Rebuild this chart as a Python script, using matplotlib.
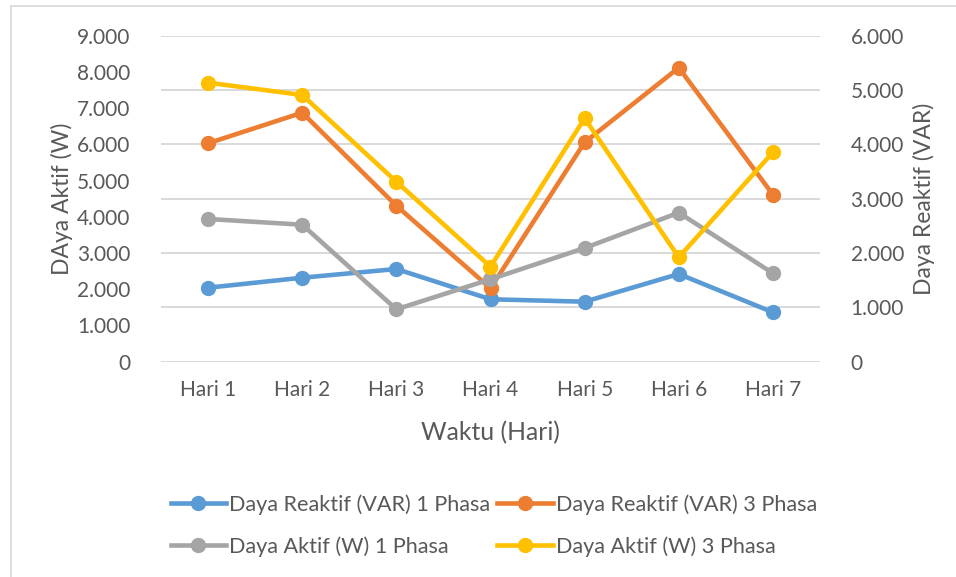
import matplotlib.pyplot as plt
from matplotlib.ticker import FuncFormatter, MultipleLocator
from matplotlib.lines import Line2D

plt.rcParams['font.family'] = ['Lato', 'DejaVu Sans']

hari = ['Hari 1', 'Hari 2', 'Hari 3', 'Hari 4', 'Hari 5', 'Hari 6', 'Hari 7']

# daya reaktif (VAR) -> sumbu kanan
reaktif_1ph = [1362, 1546, 1706, 1149, 1104, 1614, 909]
reaktif_3ph = [4020, 4583, 2871, 1351, 4038, 5411, 3074]

# daya aktif (W) -> sumbu kiri
aktif_1ph = [3940, 3782, 1447, 2275, 3139, 4114, 2441]
aktif_3ph = [7703, 7363, 4970, 2623, 6720, 2882, 5781]

c_blue = '#5B9BD5'
c_orange = '#ED7D31'
c_gray = '#A5A5A5'
c_yellow = '#FFC000'
txt = '#595959'

fig = plt.figure(figsize=(9.56, 5.77), dpi=100)
ax = fig.add_axes([161/956, 1-361.7/577, 659/956, 326/577])
ax2 = ax.twinx()

x = range(len(hari))

def titik(v, pos):
    return f"{int(round(v)):,}".replace(',', '.')

lw = 3.3
ms = 10

# ax = sumbu VAR (kanan) dengan gridline
ax.plot(x, reaktif_1ph, color=c_blue, lw=lw, marker='o', ms=ms)
ax.plot(x, reaktif_3ph, color=c_orange, lw=lw, marker='o', ms=ms)
ax.set_ylim(0, 6000)
ax.yaxis.set_major_locator(MultipleLocator(1000))
ax.yaxis.set_major_formatter(FuncFormatter(titik))
ax.yaxis.tick_right()
ax.yaxis.set_label_position('right')
ax.grid(axis='y', color='#D9D9D9', lw=1.4)
ax.set_axisbelow(True)

# ax2 = sumbu W (kiri)
ax2.plot(x, aktif_1ph, color=c_gray, lw=lw, marker='o', ms=ms)
ax2.plot(x, aktif_3ph, color=c_yellow, lw=lw, marker='o', ms=ms)
ax2.set_ylim(0, 9000)
ax2.yaxis.set_major_locator(MultipleLocator(1000))
ax2.yaxis.set_major_formatter(FuncFormatter(titik))
ax2.yaxis.tick_left()
ax2.yaxis.set_label_position('left')

ax.set_xlim(-0.5, len(hari) - 0.5)
ax.set_xticks(list(x))
ax.set_xticklabels(hari)

for a in (ax, ax2):
    for s in a.spines.values():
        s.set_visible(False)
    a.tick_params(length=0, labelsize=15, labelcolor=txt)
ax.tick_params(axis='x', pad=13)
ax.tick_params(axis='y', pad=22)
ax2.tick_params(axis='y', pad=22)

ax.set_xlabel('Waktu (Hari)', fontsize=17.8, color=txt, va='center')
ax.xaxis.set_label_coords(0.5, (361.7-433)/326)
ax2.set_ylabel('DAya Aktif (W)', fontsize=16.5, color=txt, va='center', ha='center')
ax2.yaxis.set_label_coords((62-161)/659, 0.5)
ax.set_ylabel('Daya Reaktif (VAR)', fontsize=16.5, color=txt, va='center', ha='center',
              rotation=90)
ax.yaxis.set_label_coords((924-161)/659, 0.5)

handles = [
    Line2D([], [], color=c_blue, lw=lw, marker='o', ms=ms),
    Line2D([], [], color=c_orange, lw=lw, marker='o', ms=ms),
    Line2D([], [], color=c_gray, lw=lw, marker='o', ms=ms),
    Line2D([], [], color=c_yellow, lw=lw, marker='o', ms=ms),
]
labels = ['Daya Reaktif (VAR) 1 Phasa', 'Daya Reaktif (VAR) 3 Phasa',
          'Daya Aktif (W) 1 Phasa', 'Daya Aktif (W) 3 Phasa']
# urutan kolom: baris 1 = biru, oranye; baris 2 = abu, kuning
order = [0, 2, 1, 3]
leg = fig.legend([handles[i] for i in order], [labels[i] for i in order],
                 loc='center', bbox_to_anchor=(494/956, 1-525.5/577), ncol=2,
                 frameon=False, fontsize=15.6, handlelength=2.55, handletextpad=0.15,
                 columnspacing=0.32, labelspacing=1.0, labelcolor=txt)

# bingkai chart area
fig.add_artist(Line2D([11/956, 1], [1-6/577, 1-6/577], color='#D9D9D9', lw=1.2))
fig.add_artist(Line2D([11/956, 11/956], [0, 1-6/577], color='#D9D9D9', lw=1.2))

fig.savefig('out.png', dpi=100)
